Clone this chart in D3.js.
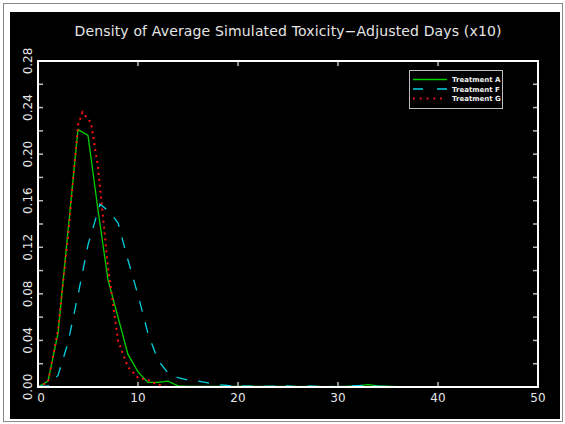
<!DOCTYPE html>
<html>
<head>
<meta charset="utf-8">
<script src="https://cdn.jsdelivr.net/npm/d3@7"></script>
<style>
  html, body { margin: 0; padding: 0; background: #fff; }
  svg { display: block; }
</style>
</head>
<body>
<svg id="chart" width="565" height="424"></svg>
<script>
/* ---------- data ---------- */
const TITLE = 'Density of Average Simulated Toxicity\u2212Adjusted Days (x10)';

const xTicks = [0, 10, 20, 30, 40, 50];
const yTicks = [0.00, 0.04, 0.08, 0.12, 0.16, 0.20, 0.24, 0.28];
const yMinor = [0.02, 0.06, 0.10, 0.14, 0.18, 0.22, 0.26];

// Treatment A (solid green)
const aX = [0, 1, 2, 3, 4, 5, 6, 7, 8, 9, 10, 11, 12, 13, 14, 15, 30, 32, 33, 34, 36, 50];
const aY = [0.000, 0.005, 0.046, 0.134, 0.221, 0.216, 0.152, 0.092, 0.060, 0.028, 0.013, 0.004, 0.004, 0.005, 0.001, 0.0005, 0.0003, 0.001, 0.002, 0.001, 0.0003, 0.0002];

// Treatment F (dashed cyan)
const fX = [0, 1, 2, 3, 4, 5, 6.2, 7.2, 8, 9, 10, 11, 12, 13, 14, 15, 16, 17, 18, 19, 20, 22, 25, 26, 27, 28, 30, 33, 34, 36, 50];
const fY = [0.0005, 0.001, 0.010, 0.038, 0.079, 0.122, 0.157, 0.150, 0.141, 0.109, 0.079, 0.046, 0.023, 0.012, 0.008, 0.006, 0.005, 0.0035, 0.002, 0.0013, 0.001, 0.0005, 0.001, 0.0003, 0.001, 0.0005, 0.0004, 0.0015, 0.0005, 0.0003, 0.0003];

// Treatment G (dotted red)
const gX = [0, 1, 2, 3, 4, 4.45, 5.3, 6, 7, 8, 9, 10, 11, 12, 13, 50];
const gY = [0.000, 0.004, 0.049, 0.129, 0.225, 0.236, 0.227, 0.189, 0.103, 0.040, 0.017, 0.008, 0.006, 0.002, 0.000, 0.000];

const seriesNames  = ['Treatment A', 'Treatment F', 'Treatment G'];
const seriesColors = ['#00d000', '#00d0e0', '#ff1010'];
const seriesDash   = [null, '11,11', '2,4'];

/* ---------- layout ---------- */
const plot = { left: 38, right: 538, top: 61, bottom: 387 };

const svg = d3.select('#chart');

// outer frame
svg.append('rect').attr('x', 3.5).attr('y', 3.5).attr('width', 559).attr('height', 418)
  .attr('fill', '#fff').attr('stroke', '#888').attr('stroke-width', 1);
svg.append('rect').attr('x', 10).attr('y', 12).attr('width', 550).attr('height', 407)
  .attr('fill', '#000');

const x = d3.scaleLinear().domain([0, 50]).range([plot.left, plot.right]);
const y = d3.scaleLinear().domain([0, 0.28]).range([plot.bottom, plot.top]);

// title
svg.append('text')
  .attr('x', (plot.left + plot.right) / 2).attr('y', 36)
  .attr('text-anchor', 'middle')
  .attr('font-family', 'DejaVu Sans, sans-serif').attr('font-size', '14px')
  .attr('fill', '#e6e6e6')
  .attr('textLength', 427).attr('lengthAdjust', 'spacing')
  .text(TITLE);

/* ---------- curves ---------- */
const line = d3.line().x(d => x(d[0])).y(d => y(d[1]));
const allSeries = [d3.zip(aX, aY), d3.zip(fX, fY), d3.zip(gX, gY)];

const curves = svg.append('g');
allSeries.forEach((pts, i) => {
  curves.append('path')
    .attr('d', line(pts))
    .attr('fill', 'none')
    .attr('stroke', seriesColors[i])
    .attr('stroke-width', i === 2 ? 2 : 1.3)
    .attr('stroke-dasharray', seriesDash[i]);
});

/* ---------- axes (box with inward ticks) ---------- */
const tickCol = '#bdbdbd';
const tickLen = 5;
const axes = svg.append('g');

xTicks.forEach(t => {
  axes.append('line').attr('x1', x(t)).attr('x2', x(t))
    .attr('y1', plot.bottom).attr('y2', plot.bottom - tickLen)
    .attr('stroke', tickCol).attr('stroke-width', 1.5);
  axes.append('line').attr('x1', x(t)).attr('x2', x(t))
    .attr('y1', plot.top).attr('y2', plot.top + tickLen)
    .attr('stroke', tickCol).attr('stroke-width', 1.5);
  axes.append('text')
    .attr('x', x(t) + (t === 0 ? 3 : 0)).attr('y', 402)
    .attr('text-anchor', 'middle')
    .attr('font-family', 'DejaVu Sans, sans-serif').attr('font-size', '12px')
    .attr('fill', '#e6e6e6').text(t);
});

yTicks.concat(yMinor).forEach(t => {
  axes.append('line').attr('x1', plot.left).attr('x2', plot.left + tickLen)
    .attr('y1', y(t)).attr('y2', y(t))
    .attr('stroke', tickCol).attr('stroke-width', 1.5);
  axes.append('line').attr('x1', plot.right).attr('x2', plot.right - tickLen)
    .attr('y1', y(t)).attr('y2', y(t))
    .attr('stroke', tickCol).attr('stroke-width', 1.5);
});

yTicks.forEach(t => {
  axes.append('text')
    .attr('transform', `translate(32,${y(t)}) rotate(-90)`)
    .attr('text-anchor', 'middle')
    .attr('font-family', 'DejaVu Sans, sans-serif').attr('font-size', '12px')
    .attr('fill', '#e6e6e6').text(t.toFixed(2));
});

axes.append('rect')
  .attr('x', plot.left).attr('y', plot.top)
  .attr('width', plot.right - plot.left).attr('height', plot.bottom - plot.top)
  .attr('fill', 'none').attr('stroke', '#fff').attr('stroke-width', 2);

/* ---------- legend ---------- */
const lg = svg.append('g').attr('transform', 'translate(409,70)');
lg.append('rect').attr('x', 0.5).attr('y', 0.5).attr('width', 93).attr('height', 38)
  .attr('fill', '#000').attr('stroke', '#bdbdbd').attr('stroke-width', 1);

seriesNames.forEach((name, i) => {
  const ly = 9.5 + i * 9.5;
  lg.append('line').attr('x1', 4).attr('x2', 38).attr('y1', ly).attr('y2', ly)
    .attr('stroke', seriesColors[i]).attr('stroke-width', i === 2 ? 1.8 : 1.4)
    .attr('stroke-dasharray', i === 1 ? '10,14' : i === 2 ? '1.8,5' : null);
  lg.append('text').attr('x', 43).attr('y', ly + 2.6)
    .attr('font-family', 'DejaVu Sans, sans-serif').attr('font-size', '7px')
    .attr('font-weight', 'bold').attr('fill', '#f0f0f0')
    .text(name);
});
</script>
</body>
</html>
